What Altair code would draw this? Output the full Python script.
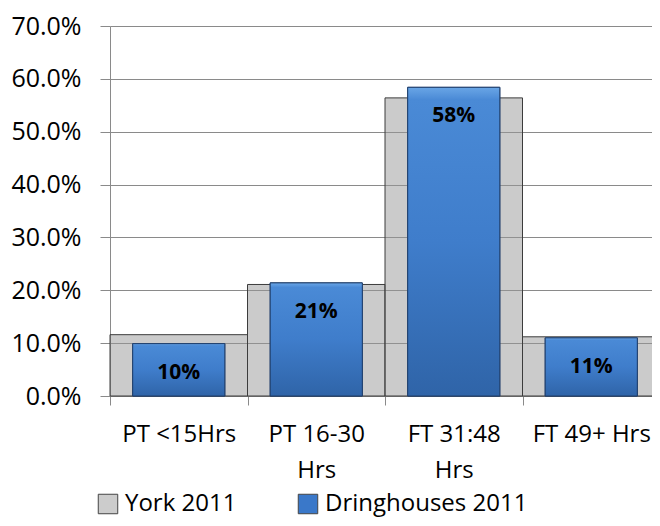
import altair as alt
import pandas as pd

categories = ["PT <15Hrs", "PT 16-30 Hrs", "FT 31:48 Hrs", "FT 49+ Hrs"]
york_2011 = [0.116, 0.211, 0.564, 0.112]
dringhouses_2011 = [0.099, 0.214, 0.584, 0.110]
series_names = ["York 2011", "Dringhouses 2011"]
y_ticks = [0.0, 0.1, 0.2, 0.3, 0.4, 0.5, 0.6, 0.7]

rows = []
for c, yv, dv in zip(categories, york_2011, dringhouses_2011):
    rows.append({"category": c, "series": series_names[0], "value": yv})
    rows.append({"category": c, "series": series_names[1], "value": dv})
df = pd.DataFrame(rows)

FONT = "Open Sans"
GRID = "#8a8a8a"

label_expr = (
    "length(datum.label) > 10 ? "
    "[slice(datum.label, 0, lastindexof(datum.label, ' ')), "
    "slice(datum.label, lastindexof(datum.label, ' ') + 1)] : datum.label"
)

x_enc = alt.X(
    "category:N",
    sort=categories,
    scale=alt.Scale(paddingInner=0, paddingOuter=0),
    axis=alt.Axis(
        title=None,
        labelAngle=0,
        tickBand="extent",
        domain=False,
        tickSize=9,
        tickColor=GRID,
        labelFont=FONT,
        labelFontSize=24,
        labelColor="#000000",
        labelPadding=17,
        labelBaseline="top",
        labelLineHeight=36,
        labelExpr=label_expr,
        labelLimit=300,
    ),
)
y_enc = alt.Y(
    "value:Q",
    scale=alt.Scale(domain=[0, 0.7], nice=False),
    axis=alt.Axis(
        title=None,
        values=y_ticks,
        format=".1%",
        tickSize=10,
        tickColor=GRID,
        domainColor=GRID,
        gridColor=GRID,
        gridOpacity=1,
        labelFont=FONT,
        labelFontSize=25,
        labelColor="#000000",
        labelPadding=19,
    ),
)

base = alt.Chart(df)

york = base.transform_filter(alt.datum.series == series_names[0]).mark_bar(
    fill="#979797", fillOpacity=0.5, stroke="#3c3c3c", strokeWidth=1
).encode(x=x_enc, y=y_enc)

drg_legend = base.transform_filter(alt.datum.series == series_names[1]).mark_bar(
    width=alt.RelativeBandSize(0.67), stroke="#203f6b", strokeWidth=1
).encode(
    x=x_enc,
    y=y_enc,
    color=alt.Color(
        "series:N",
        scale=alt.Scale(domain=series_names, range=["#cccccc", "#3a78c9"]),
        legend=alt.Legend(
            title=None,
            orient="none",
            legendX=-14,
            legendY=466,
            direction="horizontal",
            symbolType="square",
            symbolSize=380,
            symbolStrokeColor="#444444",
            symbolStrokeWidth=1,
            labelFont=FONT,
            labelFontSize=24,
            labelColor="#000000",
            labelOffset=5,
            columnPadding=59,
            labelLimit=400,
        ),
    ),
)

gradient = alt.Gradient(
    gradient="linear",
    stops=[
        alt.GradientStop(color="#6aa6e6", offset=0),
        alt.GradientStop(color="#4a8ad6", offset=0.04),
        alt.GradientStop(color="#3f7dcb", offset=0.5),
        alt.GradientStop(color="#2f64a8", offset=1),
    ],
    x1=0, x2=0, y1=0, y2=1,
)

drg = base.transform_filter(alt.datum.series == series_names[1]).mark_bar(
    width=alt.RelativeBandSize(0.67), fill=gradient, stroke="#203f6b", strokeWidth=1
).encode(x=x_enc, y=y_enc)

labels = base.transform_filter(alt.datum.series == series_names[1]).mark_text(
    font=FONT, fontWeight="bold", fontSize=21, dy=29, color="#000000", baseline="middle"
).encode(x=x_enc, y=y_enc, text=alt.Text("value:Q", format=".0%"))

chart = alt.layer(york, drg_legend, drg, labels).properties(
    width=550,
    height=370,
    autosize=alt.AutoSizeParams(type="none"),
    padding={"left": 102, "top": 18, "right": -8, "bottom": 122},
    background="#ffffff",
).configure_view(stroke=None)

chart.save("out.html", embed_options={"renderer": "svg", "actions": False})
